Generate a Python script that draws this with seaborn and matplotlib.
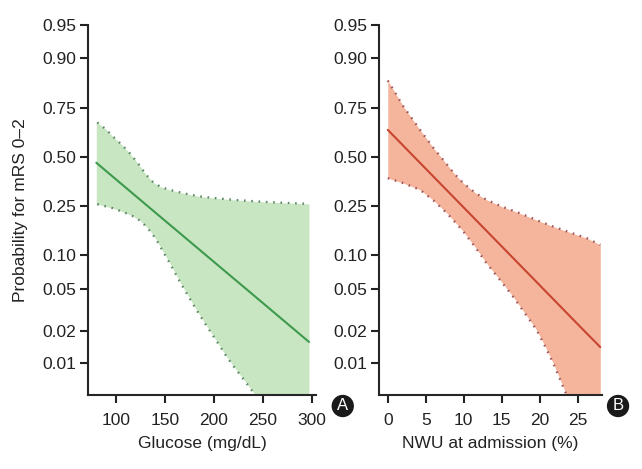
import numpy as np
import pandas as pd
import matplotlib
matplotlib.use("Agg")
import matplotlib.pyplot as plt
import seaborn as sns
from matplotlib.ticker import FixedLocator, FixedFormatter, NullLocator

# Panel A: glucose
glu_fit_x = [80, 100, 150, 200, 250, 297]
glu_fit_p = [0.467, 0.377, 0.194, 0.0875, 0.0368, 0.0158]
glu_up_x = [81, 90, 97, 106, 114, 123, 131, 138, 145, 153, 162, 174, 186, 200, 219, 236, 254, 275, 297]
glu_up_p = [0.683, 0.648, 0.611, 0.567, 0.521, 0.460, 0.400, 0.362, 0.340, 0.326, 0.315, 0.302, 0.292, 0.285, 0.277, 0.272, 0.267, 0.263, 0.259]
glu_lo_x = [81, 97, 110, 118, 125, 131, 136, 141.5, 148, 155, 163, 172, 182, 193, 203, 213, 223, 233, 245, 260, 297]
glu_lo_p = [0.258, 0.241, 0.222, 0.209, 0.193, 0.174, 0.156, 0.135, 0.108, 0.0853, 0.0630, 0.0456, 0.0320, 0.0221, 0.0160, 0.0114, 0.0085, 0.0064, 0.0045, 0.0028, 0.0010]

# Panel B: NWU at admission
nwu_fit_x = [0, 5, 10, 15, 20, 25, 28]
nwu_fit_p = [0.646, 0.434, 0.244, 0.1195, 0.054, 0.0234, 0.0141]
nwu_up_x = [0, 2.05, 4.25, 6.0, 7.3, 8.7, 9.95, 11.5, 13.0, 15.0, 17.4, 19.6, 21.8, 24.0, 26.2, 28]
nwu_up_p = [0.846, 0.755, 0.646, 0.550, 0.483, 0.410, 0.357, 0.310, 0.277, 0.248, 0.221, 0.196, 0.174, 0.156, 0.140, 0.123]
nwu_lo_x = [0, 2.0, 4.25, 6.0, 7.8, 9.0, 9.95, 11.5, 13.0, 14.8, 16.5, 18.0, 19.6, 20.8, 21.8, 23.5, 26, 28]
nwu_lo_p = [0.383, 0.358, 0.324, 0.275, 0.221, 0.185, 0.159, 0.118, 0.0853, 0.0600, 0.0424, 0.0300, 0.0206, 0.0140, 0.0099, 0.0050, 0.0025, 0.0015]

y_ticks = [0.01, 0.02, 0.05, 0.10, 0.25, 0.50, 0.75, 0.90, 0.95]
y_labels = ["0.01", "0.02", "0.05", "0.10", "0.25", "0.50", "0.75", "0.90", "0.95"]

sns.set_style("ticks")
plt.rcParams['font.family'] = ['Liberation Sans', 'DejaVu Sans']
plt.rcParams['axes.linewidth'] = 1.5
plt.rcParams['xtick.major.width'] = 1.5
plt.rcParams['ytick.major.width'] = 1.5
plt.rcParams['xtick.major.size'] = 5.5
plt.rcParams['ytick.major.size'] = 5.5

fig = plt.figure(figsize=(6.42, 4.69), dpi=100)
ax1 = fig.add_axes([0.137, 0.158, 0.355, 0.789])
ax2 = fig.add_axes([0.591, 0.158, 0.3464, 0.789])

dots = (0, (0.7, 2.4))


def draw_panel(ax, fx, fp, ux, up, lx, lp, fill_c, line_c, dot_c):
    # band: interpolate both edges onto one grid in logit space
    grid = np.linspace(min(fx), max(fx), 400)
    lg = lambda p: np.log(np.array(p) / (1 - np.array(p)))
    ilg = lambda z: 1 / (1 + np.exp(-z))
    up_g = ilg(np.interp(grid, ux, lg(up)))
    lo_g = ilg(np.interp(grid, lx, lg(lp)))
    ax.fill_between(grid, lo_g, up_g, color=fill_c, lw=0)
    sns.lineplot(x=ux, y=up, ax=ax, color=dot_c, lw=1.7, linestyle=dots)
    sns.lineplot(x=lx, y=lp, ax=ax, color=dot_c, lw=1.7, linestyle=dots)
    sns.lineplot(x=fx, y=fp, ax=ax, color=line_c, lw=1.5)
    ax.set_yscale("logit")
    ax.set_ylim(0.0049, 0.95)
    ax.yaxis.set_major_locator(FixedLocator(y_ticks))
    ax.yaxis.set_major_formatter(FixedFormatter(y_labels))
    ax.yaxis.set_minor_locator(NullLocator())
    ax.tick_params(labelsize=12.5, colors="#222222")
    ax.tick_params(axis="y", pad=3)
    ax.tick_params(axis="x", pad=7.5)
    sns.despine(ax=ax)


draw_panel(ax1, glu_fit_x, glu_fit_p, glu_up_x, glu_up_p, glu_lo_x, glu_lo_p,
           "#c9e6c3", "#3d9a4c", "#5f8a66")
ax1.set_xlim(71.5, 304)
ax1.set_xticks([100, 150, 200, 250, 300])
ax1.set_xlabel("Glucose (mg/dL)", fontsize=12.5, color="#222222", labelpad=6)
ax1.set_ylabel("Probability for mRS 0\u20132", fontsize=12.5, color="#222222", labelpad=10)

draw_panel(ax2, nwu_fit_x, nwu_fit_p, nwu_up_x, nwu_up_p, nwu_lo_x, nwu_lo_p,
           "#f5b59c", "#c8452f", "#a3575a")
ax2.set_xlim(-1.1, 28.2)
ax2.set_xticks([0, 5, 10, 15, 20, 25])
ax2.set_xlabel("NWU at admission (%)", fontsize=12.5, color="#222222", labelpad=6)
ax2.set_ylabel("")

# panel badges
for ax, letter, xpos in [(ax1, "A", 1.118), (ax2, "B", 1.073)]:
    ax.text(xpos, -0.03, letter, transform=ax.transAxes, ha="center", va="center",
            fontsize=12, color="white",
            bbox=dict(boxstyle="circle,pad=0.22", fc="#1a1a1a", ec="none"), clip_on=False)

plt.savefig("out.png", dpi=100)
plt.close()
